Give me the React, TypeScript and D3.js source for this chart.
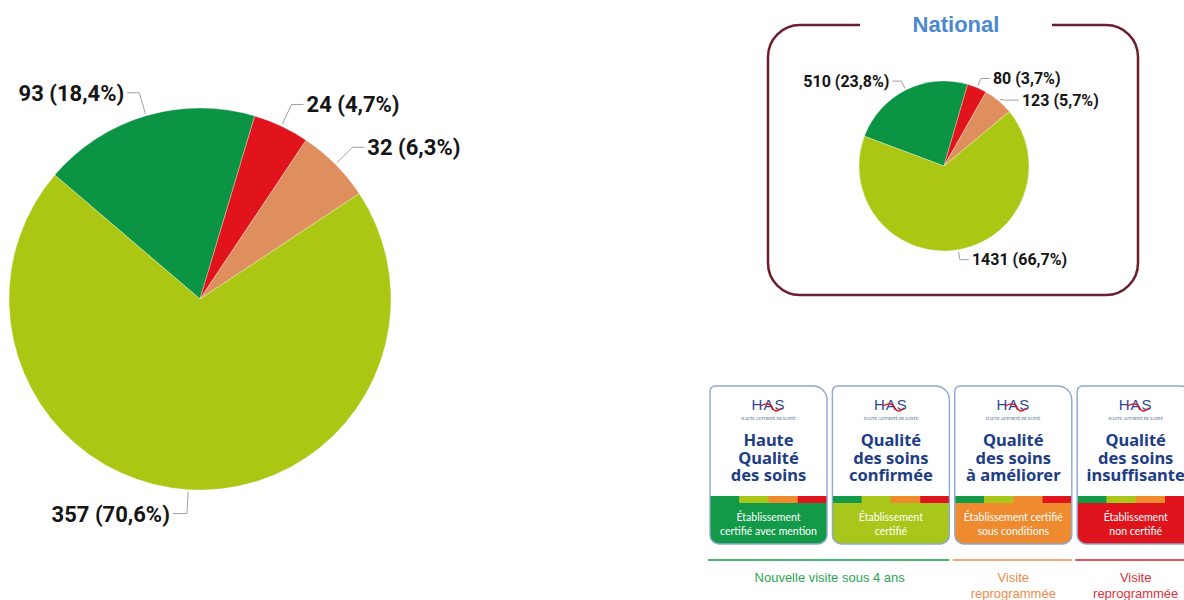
import React from "react";
import * as d3 from "d3";

// ---------- DATA ----------
const sliceCategories = [
  "Haute qualité des soins",
  "Qualité des soins insuffisante",
  "Qualité des soins à améliorer",
  "Qualité des soins confirmée",
];
const regionValues = [93, 24, 32, 357];
const nationalValues = [510, 80, 123, 1431];
const nationalTitle = "National";

const badgeTitles = [
  ["Haute", "Qualité", "des soins"],
  ["Qualité", "des soins", "confirmée"],
  ["Qualité", "des soins", "à améliorer"],
  ["Qualité", "des soins", "insuffisante"],
];
const badgeSubtitles = [
  ["Établissement", "certifié avec mention"],
  ["Établissement", "certifié"],
  ["Établissement certifié", "sous conditions"],
  ["Établissement", "non certifié"],
];
const footerGroups = [
  { lines: ["Nouvelle visite sous 4 ans"], from: 0, to: 1 },
  { lines: ["Visite", "reprogrammée"], from: 2, to: 2 },
  { lines: ["Visite", "reprogrammée"], from: 3, to: 3 },
];

// ---------- STYLE ----------
const pieColors = ["#0b9444", "#e1141c", "#df8e5e", "#abc714"];
const badgeColors = ["#129a48", "#a9c71a", "#f08a2e", "#e0141d"];
const footerLine = ["#45b872", "#f5a77a", "#e2535d"];
const footerText = ["#2ea454", "#ef8a4a", "#e0303a"];
const deg = Math.PI / 180;
const fmt = (v: number, total: number) =>
  `${v} (${((v / total) * 100).toFixed(1).replace(".", ",")}%)`;

type PieCfg = {
  cx: number;
  cy: number;
  r: number;
  start: number;
  font: number;
  elbow: number;
  hLen: number;
  gap: number;
  dys: number[];
  hLens: (number | null)[];
};

function PieChart({ values, cfg }: { values: number[]; cfg: PieCfg }) {
  const total = d3.sum(values);
  const pie = d3
    .pie<number>()
    .sort(null)
    .value((d) => d)
    .startAngle(cfg.start * deg)
    .endAngle(cfg.start * deg + 2 * Math.PI);
  const arcs = pie(values);
  const arc = d3.arc<d3.PieArcDatum<number>>().innerRadius(0).outerRadius(cfg.r);
  return (
    <g>
      <g transform={`translate(${cfg.cx},${cfg.cy})`}>
        {arcs.map((a, i) => (
          <path
            key={i}
            d={arc(a) || ""}
            fill={pieColors[i]}
            stroke="#ffffff"
            strokeOpacity={0.5}
            strokeWidth={0.6}
          />
        ))}
      </g>
      {arcs.map((a, i) => {
        const mid = (a.startAngle + a.endAngle) / 2;
        const sx = cfg.cx + (cfg.r + 2) * Math.sin(mid);
        const sy = cfg.cy - (cfg.r + 2) * Math.cos(mid);
        const ex = cfg.cx + (cfg.r + cfg.elbow) * Math.sin(mid);
        const ey = cfg.cy - (cfg.r + cfg.elbow) * Math.cos(mid) + cfg.dys[i];
        const dir = Math.sin(mid) >= 0 ? 1 : -1;
        const h = cfg.hLens[i] ?? cfg.hLen;
        const hx = ex + dir * h;
        const tx = hx + dir * cfg.gap;
        return (
          <g key={i}>
            <polyline
              points={`${sx},${sy} ${ex},${ey} ${hx},${ey}`}
              fill="none"
              stroke="#a0a0a0"
              strokeWidth={1}
            />
            <text
              x={tx}
              y={ey}
              dy="0.36em"
              textAnchor={dir > 0 ? "start" : "end"}
              fontFamily="Roboto, 'Noto Sans', sans-serif"
              fontWeight={700}
              fontSize={cfg.font}
              fill="#151515"
            >
              {fmt(values[i], total)}
            </text>
          </g>
        );
      })}
    </g>
  );
}

function badgePath(x: number, y: number, w: number, h: number, tl: number, tr: number, br: number, bl: number) {
  return `M${x + tl},${y} H${x + w - tr} A${tr},${tr} 0 0 1 ${x + w},${y + tr} V${y + h - br} A${br},${br} 0 0 1 ${x + w - br},${y + h} H${x + bl} A${bl},${bl} 0 0 1 ${x},${y + h - bl} V${y + tl} A${tl},${tl} 0 0 1 ${x + tl},${y} Z`;
}

function Badge({ i, x, y, w, h }: { i: number; x: number; y: number; w: number; h: number }) {
  const p = badgePath(x, y, w, h, 5, 14, 9, 9);
  const cx = x + w / 2;
  const stripeY = y + 110;
  const bodyY = y + 117;
  const q = w / 4;
  const id = `clip${i}`;
  return (
    <g>
      <defs>
        <clipPath id={id}>
          <path d={p} />
        </clipPath>
      </defs>
      <path d={p} fill="#ffffff" />
      <g clipPath={`url(#${id})`}>
        {badgeColors.map((c, k) => (
          <rect key={k} x={x + k * q} y={stripeY} width={q + 0.5} height={bodyY - stripeY + 1} fill={c} />
        ))}
        <rect x={x} y={bodyY} width={w} height={h} fill={badgeColors[i]} />
      </g>
      <path d={p} fill="none" stroke="#8ea8d2" strokeWidth={1.4} />
      {/* HAS logo */}
      <text
        x={cx}
        y={y + 24}
        textAnchor="middle"
        fontFamily="'Liberation Sans', Arial, sans-serif"
        fontSize={15}
        letterSpacing={1}
        fill="#2b4a94"
      >
        HAS
      </text>
      <path
        d={`M${cx - 8},${y + 20} Q${cx + 1},${y + 15} ${cx + 4},${y + 22} Q${cx + 7},${y + 28} ${cx + 13},${y + 22}`}
        fill="none"
        stroke="#e0141d"
        strokeWidth={1.4}
      />
      <text
        x={cx}
        y={y + 34}
        textAnchor="middle"
        fontFamily="'Liberation Serif', serif"
        fontSize={4}
        fill="#2b4a94"
      >
        HAUTE AUTORITÉ DE SANTÉ
      </text>
      <text
        textAnchor="middle"
        fontFamily="'Noto Sans', sans-serif"
        fontWeight={700}
        fontSize={16.5}
        fill="#1d3d85"
      >
        {badgeTitles[i].map((t, k) => (
          <tspan key={k} x={cx} y={y + 60 + k * 17.5}>
            {t}
          </tspan>
        ))}
      </text>
      <text
        textAnchor="middle"
        fontFamily="Lato, 'Noto Sans', sans-serif"
        fontSize={10.5}
        fill="#ffffff"
      >
        {badgeSubtitles[i].map((t, k) => (
          <tspan key={k} x={cx} y={y + 135 + k * 13.5}>
            {t}
          </tspan>
        ))}
      </text>
    </g>
  );
}

export default function App() {
  const bigCfg: PieCfg = {
    cx: 200,
    cy: 299,
    r: 191,
    start: -49.5,
    font: 22,
    elbow: 24,
    hLen: 12,
    gap: 3,
    dys: [0, 0, 0, 0],
    hLens: [null, null, null, 14],
  };
  const smallCfg: PieCfg = {
    cx: 944,
    cy: 166,
    r: 85,
    start: -69.5,
    font: 16,
    elbow: 10,
    hLen: 9,
    gap: 3,
    dys: [0, 0, 7, 0],
    hLens: [null, null, 14, null],
  };

  // National box
  const bx0 = 768,
    by0 = 25,
    bx1 = 1138,
    by1 = 295,
    br = 32,
    gapL = 860,
    gapR = 1052;
  const boxPath = `M${gapL},${by0} H${bx0 + br} A${br},${br} 0 0 0 ${bx0},${by0 + br} V${by1 - br} A${br},${br} 0 0 0 ${bx0 + br},${by1} H${bx1 - br} A${br},${br} 0 0 0 ${bx1},${by1 - br} V${by0 + br} A${br},${br} 0 0 0 ${bx1 - br},${by0} H${gapR}`;

  const badgeX = d3.range(4).map((k) => 710 + k * 122.4);
  const bw = 117,
    bh = 158,
    by = 386;

  return (
    <svg
      width={1184}
      height={600}
      style={{ position: "absolute", left: 0, top: 0, background: "#ffffff" }}
    >
      <rect width={1184} height={600} fill="#ffffff" />
      <PieChart values={regionValues} cfg={bigCfg} />

      <path d={boxPath} fill="none" stroke="#6b1e2c" strokeWidth={2.5} />
      <text
        x={(gapL + gapR) / 2}
        y={24}
        dy="0.36em"
        textAnchor="middle"
        fontFamily="'Liberation Sans', Arial, sans-serif"
        fontWeight={700}
        fontSize={22}
        fill="#4a89d0"
      >
        {nationalTitle}
      </text>
      <PieChart values={nationalValues} cfg={smallCfg} />

      {badgeX.map((x, i) => (
        <Badge key={i} i={i} x={x} y={by} w={bw} h={bh} />
      ))}

      {footerGroups.map((g, k) => {
        const x0 = badgeX[g.from] - 2;
        const x1 = badgeX[g.to] + bw;
        const cx = (badgeX[g.from] + badgeX[g.to] + bw) / 2;
        return (
          <g key={k}>
            <line x1={x0} x2={x1} y1={560} y2={560} stroke={footerLine[k]} strokeWidth={2} />
            <text
              textAnchor="middle"
              fontFamily="'Liberation Sans', Arial, sans-serif"
              fontSize={13}
              fill={footerText[k]}
            >
              {g.lines.map((t, j) => (
                <tspan key={j} x={cx} y={582 + j * 16}>
                  {t}
                </tspan>
              ))}
            </text>
          </g>
        );
      })}
    </svg>
  );
}
